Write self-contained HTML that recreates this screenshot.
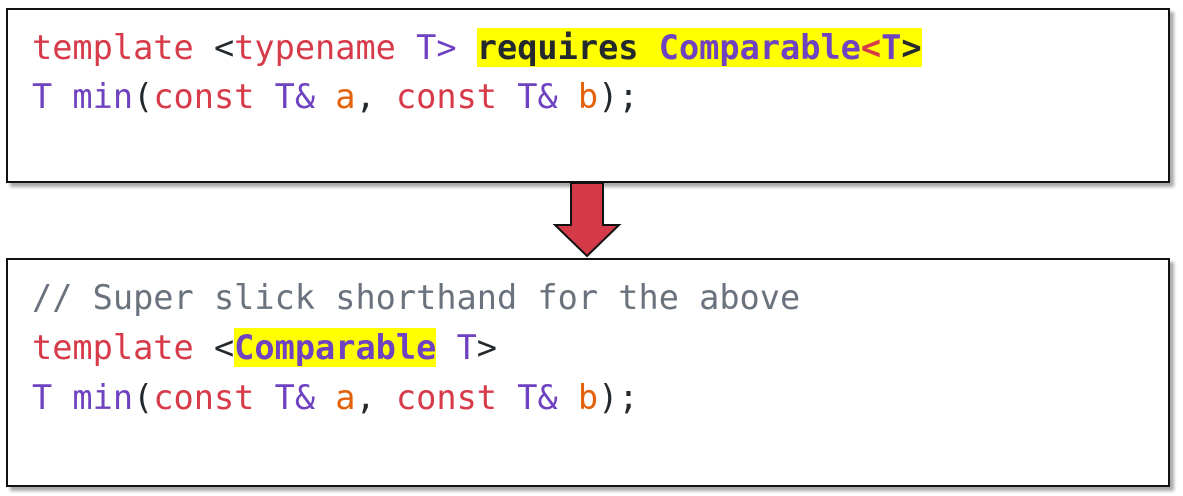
<!DOCTYPE html>
<html><head><style>
body{margin:0;width:1183px;height:496px;background:#fff;position:relative;overflow:hidden}
.box{position:absolute;left:6px;width:1160px;border:2px solid #111;background:#fff;box-shadow:4px 4px 3px #aaa}
.l{position:absolute;left:32px;font-family:"DejaVu Sans Mono","Liberation Mono",monospace;font-size:33.6px;white-space:pre;line-height:40px;color:#24292e}
.r{color:#d73a49}.p{color:#6f42c1}.o{color:#e36209}.g{color:#6a737d}.b{font-weight:bold}
.h{background:#ffff00}
</style></head><body>
<div class="box" style="top:8px;height:171px"></div>
<div class="box" style="top:258px;height:225px"></div>
<svg style="position:absolute;left:0;top:0" width="1183" height="496">
<polygon points="571,183 603,183 603,225 619,225 587,256 555,225 571,225" fill="#d43a48" stroke="#111" stroke-width="2"/>
</svg>
<div class="l" style="top:28px"><span class="r">template</span> &lt;<span class="r">typename</span> <span class="p">T&gt;</span> <span class="h b">requires <span class="p">Comparable</span><span class="r">&lt;</span><span class="p">T</span>&gt;</span></div>
<div class="l" style="top:77px"><span class="p">T min</span>(<span class="r">const</span> <span class="p">T&amp;</span> <span class="o">a</span>, <span class="r">const</span> <span class="p">T&amp;</span> <span class="o">b</span>);</div>
<div class="l g" style="top:278px">// Super slick shorthand for the above</div>
<div class="l" style="top:328px"><span class="r">template</span> &lt;<span class="h b p">Comparable</span> <span class="p">T</span>&gt;</div>
<div class="l" style="top:378px"><span class="p">T min</span>(<span class="r">const</span> <span class="p">T&amp;</span> <span class="o">a</span>, <span class="r">const</span> <span class="p">T&amp;</span> <span class="o">b</span>);</div>
</body></html>
